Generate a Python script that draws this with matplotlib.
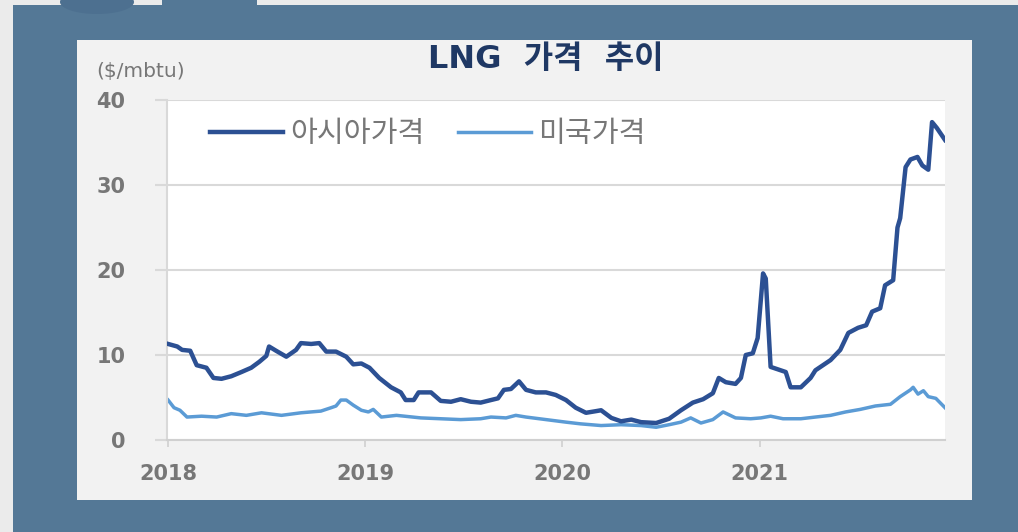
import numpy as np
import matplotlib
matplotlib.use('Agg')
import matplotlib.pyplot as plt
import matplotlib.dates as mdates
import pandas as pd
from matplotlib.patches import Rectangle, Ellipse

plt.rcParams['font.family'] = ['Noto Sans CJK KR', 'DejaVu Sans']

# 아시아 LNG 가격 ($/mbtu)
asia_dates = ['2018-01-01', '2018-01-18', '2018-01-27', '2018-02-11', '2018-02-23', '2018-03-13',
              '2018-03-26', '2018-04-10', '2018-04-28', '2018-05-17', '2018-06-04', '2018-06-19',
              '2018-07-02', '2018-07-07', '2018-07-20', '2018-08-08', '2018-08-26', '2018-09-04',
              '2018-09-23', '2018-10-08', '2018-10-21', '2018-11-08', '2018-11-27', '2018-12-10',
              '2018-12-25', '2019-01-09', '2019-01-27', '2019-02-18', '2019-03-08', '2019-03-17',
              '2019-04-01', '2019-04-10', '2019-05-03', '2019-05-21', '2019-06-09', '2019-06-27',
              '2019-07-16', '2019-08-03', '2019-08-22', '2019-09-04', '2019-09-15', '2019-09-28',
              '2019-10-13', '2019-10-26', '2019-11-13', '2019-12-02', '2019-12-20', '2020-01-08',
              '2020-01-26', '2020-02-14', '2020-03-04', '2020-03-13', '2020-04-01', '2020-04-19',
              '2020-05-08', '2020-05-26', '2020-06-23', '2020-07-17', '2020-08-08', '2020-08-30',
              '2020-09-18', '2020-10-06', '2020-10-17', '2020-10-30', '2020-11-17', '2020-11-27',
              '2020-12-06', '2020-12-19', '2020-12-28', '2021-01-07', '2021-01-12', '2021-01-21',
              '2021-02-18', '2021-02-27', '2021-03-18', '2021-04-05', '2021-04-14', '2021-05-12',
              '2021-05-30', '2021-06-14', '2021-07-02', '2021-07-17', '2021-07-28', '2021-08-12',
              '2021-08-21', '2021-09-05', '2021-09-13', '2021-09-18', '2021-09-28', '2021-10-07',
              '2021-10-20', '2021-10-29', '2021-11-09', '2021-11-16', '2021-11-25', '2021-12-10']
asia_price = [11.3, 11.0, 10.6, 10.5, 8.8, 8.5, 7.3, 7.2, 7.5, 8.0, 8.5, 9.2,
              9.9, 11.0, 10.5, 9.8, 10.6, 11.4, 11.3, 11.4, 10.4, 10.4, 9.8, 8.9,
              9.0, 8.5, 7.3, 6.2, 5.6, 4.7, 4.7, 5.6, 5.6, 4.6, 4.5, 4.8,
              4.5, 4.4, 4.7, 4.9, 5.9, 6.0, 6.9, 5.9, 5.6, 5.6, 5.3, 4.7,
              3.8, 3.2, 3.4, 3.5, 2.6, 2.2, 2.4, 2.1, 2.0, 2.5, 3.5, 4.4,
              4.8, 5.5, 7.3, 6.8, 6.6, 7.3, 10.0, 10.2, 12.0, 19.6, 19.0, 8.6,
              8.0, 6.2, 6.2, 7.3, 8.2, 9.4, 10.6, 12.6, 13.2, 13.5, 15.1, 15.5,
              18.2, 18.8, 25.0, 26.1, 32.1, 33.0, 33.3, 32.3, 31.8, 37.4, 36.7, 35.3]

# 미국 LNG 가격 ($/mbtu)
us_dates = ['2018-01-01', '2018-01-12', '2018-01-23', '2018-02-05', '2018-03-04', '2018-04-01',
            '2018-04-28', '2018-05-26', '2018-06-23', '2018-07-30', '2018-09-04', '2018-10-11',
            '2018-10-30', '2018-11-08', '2018-11-17', '2018-11-27', '2018-12-10', '2018-12-25',
            '2019-01-07', '2019-01-16', '2019-01-31', '2019-02-28', '2019-04-14', '2019-05-21',
            '2019-06-27', '2019-08-03', '2019-08-22', '2019-09-19', '2019-10-07', '2019-10-26',
            '2019-12-02', '2020-01-08', '2020-02-04', '2020-03-13', '2020-04-19', '2020-05-26',
            '2020-06-23', '2020-07-17', '2020-08-08', '2020-08-26', '2020-09-14', '2020-10-06',
            '2020-10-25', '2020-11-17', '2020-12-15', '2021-01-03', '2021-01-21', '2021-02-13',
            '2021-03-18', '2021-04-14', '2021-05-12', '2021-06-09', '2021-07-06', '2021-08-03',
            '2021-08-31', '2021-09-18', '2021-10-07', '2021-10-12', '2021-10-21', '2021-10-31',
            '2021-11-09', '2021-11-23', '2021-12-10']
us_price = [4.7, 3.8, 3.5, 2.7, 2.8, 2.7, 3.1, 2.9, 3.2, 2.9, 3.2, 3.4,
            3.8, 4.0, 4.7, 4.7, 4.1, 3.5, 3.3, 3.6, 2.7, 2.9, 2.6, 2.5,
            2.4, 2.5, 2.7, 2.6, 2.9, 2.7, 2.4, 2.1, 1.9, 1.7, 1.8, 1.7,
            1.5, 1.8, 2.1, 2.6, 2.0, 2.4, 3.3, 2.6, 2.5, 2.6, 2.8, 2.5,
            2.5, 2.7, 2.9, 3.3, 3.6, 4.0, 4.2, 5.1, 5.9, 6.2, 5.4, 5.8,
            5.1, 4.9, 3.8]

years = ['2018', '2019', '2020', '2021']
y_ticks = [0, 10, 20, 30, 40]

W, H = 1018, 532
fig = plt.figure(figsize=(W / 100, H / 100), dpi=100, facecolor='#ebebeb')

# 슬라이드 배경 (axes 뒤에 그리기)
slate = '#547896'
fig.patches.append(Rectangle((13 / W, 0), 1 - 13 / W, 1 - 5 / H, transform=fig.transFigure,
                             facecolor=slate, edgecolor='none', zorder=-5))
fig.patches.append(Rectangle((162 / W, 0.95), 95 / W, 0.05, transform=fig.transFigure,
                             facecolor=slate, edgecolor='none', zorder=-5))
fig.patches.append(Ellipse((97 / W, 1 - 2 / H), 74 / W, 24 / H, transform=fig.transFigure,
                           facecolor='#4d7090', edgecolor='none', zorder=-4))
fig.patches.append(Rectangle((77 / W, 1 - 500 / H), 895 / W, 460 / H, transform=fig.transFigure,
                             facecolor='#f2f2f2', edgecolor='none', zorder=-3))

ax = fig.add_axes([167 / W, 1 - 440 / H, 778 / W, 340 / H])
ax.set_zorder(1)
ax.set_facecolor('white')

ax.plot(pd.to_datetime(asia_dates), asia_price, color='#2c5093', lw=3.2,
        solid_joinstyle='round', label='아시아가격', zorder=3)
ax.plot(pd.to_datetime(us_dates), us_price, color='#5b9bd5', lw=2.5,
        solid_joinstyle='round', label='미국가격', zorder=2)

ax.set_ylim(0, 40)
ax.set_xlim(pd.Timestamp('2017-12-30'), pd.Timestamp('2021-12-10'))
ax.set_yticks(y_ticks)
ax.set_xticks(pd.to_datetime([y + '-01-01' for y in years]))
ax.xaxis.set_major_formatter(mdates.DateFormatter('%Y'))

ax.grid(axis='y', color='#d9d9d9', lw=1.5)
ax.set_axisbelow(True)
for s in ['top', 'right']:
    ax.spines[s].set_visible(False)
ax.spines['left'].set_color('#d9d9d9')
ax.spines['left'].set_linewidth(1.5)
ax.spines['bottom'].set_color('#d0d0d0')
ax.spines['bottom'].set_linewidth(1.5)

ax.tick_params(axis='y', length=9, width=1.5, color='#d9d9d9', pad=21,
               labelsize=15, labelcolor='#777777')
ax.tick_params(axis='x', length=5, width=1.2, color='#d0d0d0', pad=12,
               labelsize=15, labelcolor='#777777')
for lab in ax.get_xticklabels() + ax.get_yticklabels():
    lab.set_family('DejaVu Sans')
    lab.set_fontweight('bold')

fig.text(546 / W, 1 - 60 / H, 'LNG  가격  추이', ha='center', va='center',
         fontsize=23, fontweight='bold', color='#1f3864',
         family=['DejaVu Sans', 'Noto Sans CJK KR'])
fig.text(96 / W, 1 - 72 / H, '($/mbtu)', ha='left', va='center',
         fontsize=14.5, color='#777777', family='DejaVu Sans')

leg = ax.legend(loc='center left', bbox_to_anchor=(210 / W, 1 - 134 / H),
                bbox_transform=fig.transFigure, ncol=2, frameon=False,
                borderpad=0, borderaxespad=0, handlelength=2.5, handletextpad=0.25,
                columnspacing=1.15, prop={'size': 21})
for t in leg.get_texts():
    t.set_color('#777777')

fig.savefig('out.png', dpi=100, facecolor=fig.get_facecolor())
